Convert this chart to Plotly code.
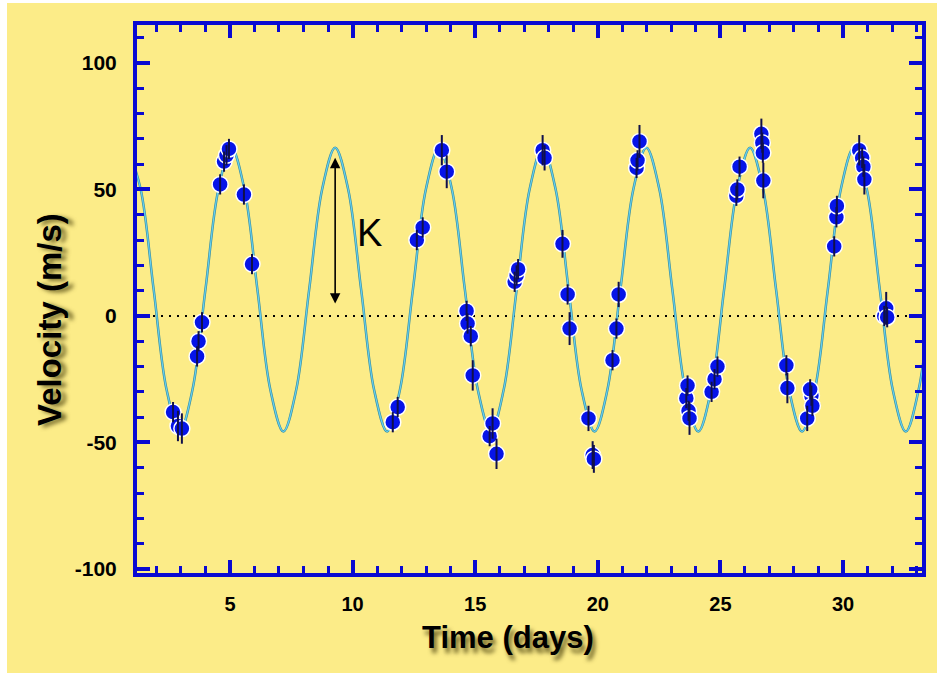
import plotly.graph_objects as go

obs_days = [2.68, 2.88, 3.04, 3.66, 3.72, 3.86, 4.60, 4.76, 4.86, 4.96, 5.57, 5.90,
            11.64, 11.84, 12.62, 12.86, 13.64, 13.84, 14.65, 14.69, 14.82, 14.90,
            15.59, 15.71, 15.87, 16.61, 16.69, 16.75, 17.75, 17.83, 18.56, 18.77, 18.85,
            19.62, 19.79, 19.84, 20.60, 20.76, 20.85, 21.58, 21.62, 21.70,
            23.61, 23.66, 23.70, 23.74, 24.64, 24.76, 24.88, 25.65, 25.69, 25.78,
            26.67, 26.71, 26.73, 26.75, 27.69, 27.73, 28.54, 28.71, 28.75, 28.66,
            29.64, 29.73, 29.75, 30.66, 30.78, 30.83, 30.87, 31.68, 31.76, 31.80]
obs_vel = [-38, -43.5, -44.5, -16, -10, -2.5, 52, 61, 63.5, 66, 48, 20.5,
           -42, -36, 30, 35, 65.5, 57, 2, -3, -8, -23.5,
           -47.5, -42.5, -54.5, 13.5, 16, 18.5, 65.5, 62.5, 28.5, 8.5, -5,
           -40.5, -55, -56.5, -17.5, -5, 8.5, 58.5, 61.5, 69,
           -32.5, -27.5, -37.5, -40.5, -30, -25, -20, 47.5, 50, 59,
           72, 68.5, 64.5, 53.5, -19.5, -28.5, -40.5, -31.5, -35.5, -29,
           27.5, 39, 43.5, 65.5, 62.5, 59, 54, 0, 3, -0.5]
obs_err = [4, 6, 6, 4, 4, 4, 4, 4, 4, 4, 4, 4,
           4, 4, 4, 4, 6, 6.5, 4, 4, 4, 6,
           4, 6, 6, 4, 4, 4, 6, 5, 5.5, 4, 6.5,
           5, 5.5, 5.5, 4, 4, 5, 4, 4, 6.5,
           4, 4, 4, 6.5, 4, 4, 4, 4, 4, 4,
           6, 4, 4, 7, 4, 6, 5, 4, 4, 4,
           4, 4, 4, 6, 4, 4, 6, 4, 6.5, 4]

# ---- fitted orbit curve: nodes (peaks, troughs, crossings) ----
curve_days = [0.83, 1.36, 1.89, 2.42, 2.95, 3.47, 4.00, 4.53, 5.06, 5.59, 6.12, 6.65,
              7.18, 7.70, 8.23, 8.76, 9.29, 9.82, 10.35, 10.88, 11.41, 11.93, 12.46,
              12.99, 13.52, 14.05, 14.58, 15.11, 15.64, 16.16, 16.69, 17.22, 17.75,
              18.28, 18.81, 19.34, 19.87, 20.39, 20.92, 21.45, 21.98, 22.51, 23.04,
              23.57, 24.10, 24.62, 25.15, 25.68, 26.21, 26.74, 27.27, 27.80, 28.33,
              28.85, 29.38, 29.91, 30.44, 30.97, 31.50, 32.03, 32.56, 33.08, 33.61]
curve_vel = [66.5, 50.1, 10.4, -29.3, -45.7, -29.3, 10.4, 50.1,
             66.5, 50.1, 10.4, -29.3, -45.7, -29.3, 10.4, 50.1,
             66.5, 50.1, 10.4, -29.3, -45.7, -29.3, 10.4, 50.1,
             66.5, 50.1, 10.4, -29.3, -45.7, -29.3, 10.4, 50.1,
             66.5, 50.1, 10.4, -29.3, -45.7, -29.3, 10.4, 50.1,
             66.5, 50.1, 10.4, -29.3, -45.7, -29.3, 10.4, 50.1,
             66.5, 50.1, 10.4, -29.3, -45.7, -29.3, 10.4, 50.1,
             66.5, 50.1, 10.4, -29.3, -45.7, -29.3, 10.4]

x_ticks = [5, 10, 15, 20, 25, 30]
y_ticks = [-100, -50, 0, 50, 100]

# K amplitude marker
k_day = 9.29
k_top = 62.5
k_bottom = 4.3

BG = "#fcec88"
FRAME = "#0a0ad2"
FONT = "Liberation Sans, Arial, sans-serif"

fig = go.Figure()

# curve: dark edge + light core
fig.add_trace(go.Scatter(x=curve_days, y=curve_vel, mode="lines",
                         line=dict(color="#3a8ea0", width=2.5, shape="spline", smoothing=1.0),
                         hoverinfo="skip"))
fig.add_trace(go.Scatter(x=curve_days, y=curve_vel, mode="lines",
                         line=dict(color="#66d0f0", width=1.2, shape="spline", smoothing=1.0),
                         hoverinfo="skip"))

# data markers
fig.add_trace(go.Scatter(x=obs_days, y=obs_vel, mode="markers",
                         marker=dict(size=16, color="#0614e8",
                                     line=dict(color="white", width=1.5))))
# error bars drawn over markers
fig.add_trace(go.Scatter(x=obs_days, y=obs_vel, mode="markers",
                         marker=dict(size=2, color="rgba(0,0,0,0)"),
                         error_y=dict(type="data", array=obs_err, visible=True,
                                      color="#10104a", thickness=2, width=0),
                         hoverinfo="skip"))

fig.update_layout(
    width=937, height=673,
    margin=dict(l=137, r=15, t=25, b=100),
    paper_bgcolor=BG, plot_bgcolor=BG,
    showlegend=False,
    shapes=[
        dict(type="line", xref="paper", yref="y", x0=0, x1=1, y0=0, y1=0,
             line=dict(color="black", width=2, dash="2px,6px"), layer="below"),
        dict(type="rect", xref="paper", yref="paper", x0=-0.1745, x1=-0.1656,
             y0=-0.19, y1=1.05, fillcolor="white", line=dict(width=0), layer="below"),
        dict(type="rect", xref="paper", yref="paper", x0=-0.18, x1=1.03,
             y0=1.0401, y1=1.05, fillcolor="white", line=dict(width=0), layer="below"),
    ],
    annotations=[
        dict(x=k_day, y=k_top, ax=k_day, ay=k_bottom, xref="x", yref="y",
             axref="x", ayref="y", text="", showarrow=True, arrowside="end+start",
             arrowhead=2, arrowsize=1.3, arrowwidth=1.6, arrowcolor="black",
             standoff=0, startstandoff=0),
        dict(x=10.71, y=32.8, xref="x", yref="y", text="K", showarrow=False,
             font=dict(family=FONT, size=38, color="black")),
        dict(x=-0.1108, y=0.4617, xref="paper", yref="paper", text="Velocity (m/s)",
             textangle=-90, showarrow=False, xanchor="center", yanchor="middle",
             font=dict(family=FONT, size=33, color="black", weight="bold",
                       shadow="-2px 5px 4px rgba(70,60,10,0.75)")),
        dict(x=0.4726, y=-0.1168, xref="paper", yref="paper", text="Time (days)",
             showarrow=False, xanchor="center", yanchor="middle",
             font=dict(family=FONT, size=31, color="black", weight="bold",
                       shadow="3px 5px 4px rgba(70,60,10,0.75)")),
    ],
)

fig.update_xaxes(range=[1.21, 33.22], showgrid=False, zeroline=False,
                 showline=True, linecolor=FRAME, linewidth=4, mirror="allticks",
                 ticks="inside", ticklen=13, tickwidth=4, tickcolor=FRAME,
                 tickvals=x_ticks, ticktext=[str(v) for v in x_ticks],
                 ticklabelstandoff=10,
                 tickfont=dict(family=FONT, size=20, color="black", weight="bold"),
                 minor=dict(ticks="inside", dtick=1, tick0=0, ticklen=7, tickwidth=3,
                            tickcolor=FRAME, showgrid=False))
fig.update_yaxes(range=[-101.6, 115], showgrid=False, zeroline=False,
                 showline=True, linecolor=FRAME, linewidth=4, mirror="allticks",
                 ticks="inside", ticklen=13, tickwidth=4, tickcolor=FRAME,
                 tickvals=y_ticks, ticktext=[str(v) for v in y_ticks],
                 ticklabelstandoff=12,
                 tickfont=dict(family=FONT, size=21, color="black", weight="bold"),
                 minor=dict(ticks="inside", dtick=10, tick0=0, ticklen=7, tickwidth=3,
                            tickcolor=FRAME, showgrid=False))

fig.write_html("out.html")
